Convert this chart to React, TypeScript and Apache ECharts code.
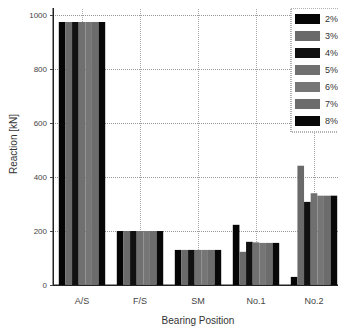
import React, { useEffect, useRef } from "react";
import * as echarts from "echarts";

const categories = ["A/S", "F/S", "SM", "No.1", "No.2"];
const seriesNames = ["2%", "3%", "4%", "5%", "6%", "7%", "8%"];
const s2 = [975, 200, 130, 223, 30];
const s3 = [975, 200, 130, 123, 442];
const s4 = [975, 200, 130, 160, 308];
const s5 = [975, 200, 130, 158, 340];
const s6 = [975, 200, 130, 156, 331];
const s7 = [975, 200, 130, 156, 331];
const s8 = [975, 200, 130, 156, 331];
const seriesValues = [s2, s3, s4, s5, s6, s7, s8];
const seriesColors = ["#050505", "#6a6a6a", "#111111", "#707070", "#767676", "#6c6c6c", "#080808"];
const halfCategories = ["a0", "a1", "b0", "b1", "c0", "c1", "d0", "d1", "e0", "e1"];

export default function App() {
  const ref = useRef<HTMLDivElement>(null);
  useEffect(() => {
    const chart = echarts.init(ref.current!, null, { renderer: "svg" });
    const font = "Liberation Sans";
    const bars = seriesNames.map((name, i) => ({
      name,
      type: "bar",
      data: seriesValues[i],
      barGap: "0%",
      barCategoryGap: "20%",
      itemStyle: { color: seriesColors[i] },
      z: 2,
    }));
    chart.setOption({
      animation: false,
      textStyle: { fontFamily: font },
      grid: { left: 52, right: 3, top: 3, bottom: 50, show: true, borderColor: "#222", borderWidth: 1, containLabel: false },
      legend: {
        data: seriesNames,
        orient: "vertical",
        right: 4,
        top: 8,
        itemWidth: 25,
        itemHeight: 10,
        itemGap: 7,
        padding: [6, 4],
        borderColor: "#666",
        borderWidth: 1,
        borderType: "dotted",
        backgroundColor: "#fff",
        textStyle: { fontSize: 9, color: "#333", fontFamily: font },
        icon: "rect",
        z: 10,
      },
      xAxis: [
        {
          type: "category",
          data: categories,
          name: "Bearing Position",
          nameLocation: "middle",
          nameGap: 30,
          nameTextStyle: { fontSize: 10, color: "#333" },
          axisLine: { lineStyle: { color: "#222" } },
          axisTick: { alignWithLabel: true, length: 3, lineStyle: { color: "#444" } },
          axisLabel: { fontSize: 9, color: "#444", margin: 11 },
          splitLine: { show: false },
        },
        {
          type: "category",
          data: halfCategories,
          position: "bottom",
          show: true,
          axisLine: { show: false },
          axisTick: { show: false },
          axisLabel: { show: false },
          splitLine: {
            show: true,
            interval: (i: number) => i % 2 === 1,
            lineStyle: { color: "#aaa", type: "dotted" },
          },
        },
      ],
      yAxis: {
        type: "value",
        min: 0,
        max: 1045,
        interval: 200,
        name: "Reaction [kN]",
        nameLocation: "middle",
        nameGap: 35,
        nameTextStyle: { fontSize: 10, color: "#333" },
        axisLine: { show: true, lineStyle: { color: "#222" } },
        axisTick: { show: true, length: 3, lineStyle: { color: "#444" } },
        axisLabel: { fontSize: 8, color: "#444", showMaxLabel: false, margin: 6, formatter: (v: number) => String(v) },
        splitLine: { show: true, lineStyle: { color: "#999", type: "dotted" } },
      },
      series: bars,
    });
    return () => chart.dispose();
  }, []);
  return <div ref={ref} style={{ width: 346, height: 335, margin: -8 }} />;
}
